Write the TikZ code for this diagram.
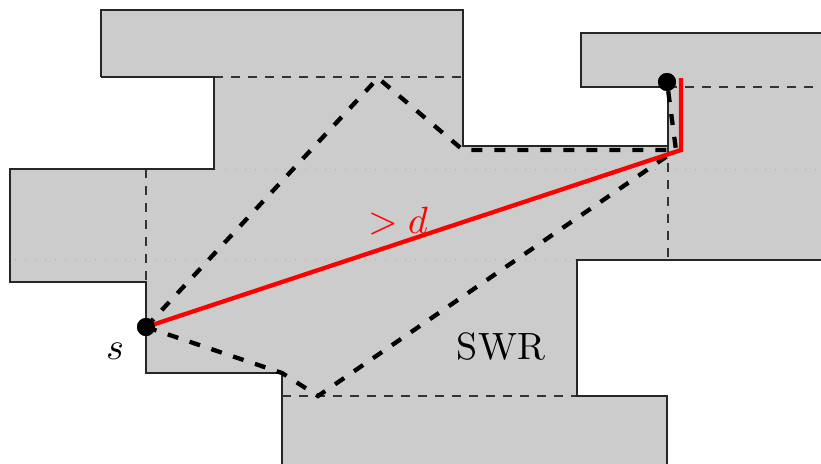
\documentclass[tikz,border=0pt]{standalone}
\usepackage{graphicx}
\newcommand{\biglbl}[1]{\scalebox{3.8}{#1}}
\begin{document}
\begin{tikzpicture}[x=1pt,y=-1pt,
  region/.style={fill=black!20,draw=none},
  border/.style={draw=black!85,line width=1.4pt,line join=miter},
  inner/.style={draw=black!80,line width=1.3pt,dash pattern=on 9pt off 8pt},
  grid/.style={draw=black!35,line width=1pt,dash pattern=on 1pt off 9pt},
  route/.style={draw=black,line width=4.3pt,dash pattern=on 11pt off 12pt},
  redpath/.style={draw=red,line width=4.3pt,line join=miter},
  pt/.style={circle,fill=black,inner sep=0pt,minimum size=18pt},
  lbl/.style={inner sep=0pt}]
\useasboundingbox (0,0) rectangle (821,463);
\clip (0,0) rectangle (821,463);
% free region
\path[region] (101,10) -- (463,10) -- (463,146) -- (668,146) -- (668,87) -- (581,87)
  -- (581,33) -- (840,33) -- (840,260) -- (577,260) -- (577,396) -- (667,396)
  -- (667,480) -- (282,480) -- (282,373) -- (146,373) -- (146,282) -- (10,282)
  -- (10,169) -- (214,169) -- (214,77) -- (101,77) -- cycle;
% dotted grid lines
\draw[grid] (15,169) -- (821,169);
\draw[grid] (15,259) -- (577,259);
% thin dashed separators
\draw[inner] (214,77) -- (463,77);
\draw[inner] (146,169) -- (146,282);
\draw[inner] (282,396) -- (577,396);
\draw[inner] (668,146) -- (668,260);
\draw[inner] (668,87) -- (821,87);
% borders
\draw[border] (101,77) -- (101,10) -- (463,10) -- (463,146) -- (668,146) -- (668,87) -- (581,87)
  -- (581,33) -- (840,33);
\draw[border] (840,260) -- (577,260) -- (577,396) -- (667,396) -- (667,480);
\draw[border] (282,480) -- (282,373) -- (146,373) -- (146,282) -- (10,282)
  -- (10,169) -- (214,169) -- (214,77) -- (101,77);
% points
\node[pt] (s) at (146,327) {};
\node[pt] (t) at (667,82) {};
\coordinate (a1) at (378,78);
\coordinate (a2) at (463,150);
\coordinate (c) at (676,150);
\coordinate (b1) at (282,373);
\coordinate (b2) at (318,396);
\coordinate (r1) at (681,150);
\coordinate (r2) at (681,78);
% routes
\draw[route] (s.center) -- (a1) -- (a2) -- (c) -- (t.center);
\draw[route] (s.center) -- (b1) -- (b2) -- (c);
\draw[redpath] (s.center) -- (r1) -- (r2);
\node[pt] at (s) {};
\node[pt] at (t) {};
% labels
\node[lbl] (sl) at (115,351) {\biglbl{$s$}};
\node[lbl,text=red] (dl) at (398,221) {\biglbl{$>d$}};
\node[lbl] (swr) at (501,347) {\biglbl{SWR}};
\end{tikzpicture}
\end{document}
